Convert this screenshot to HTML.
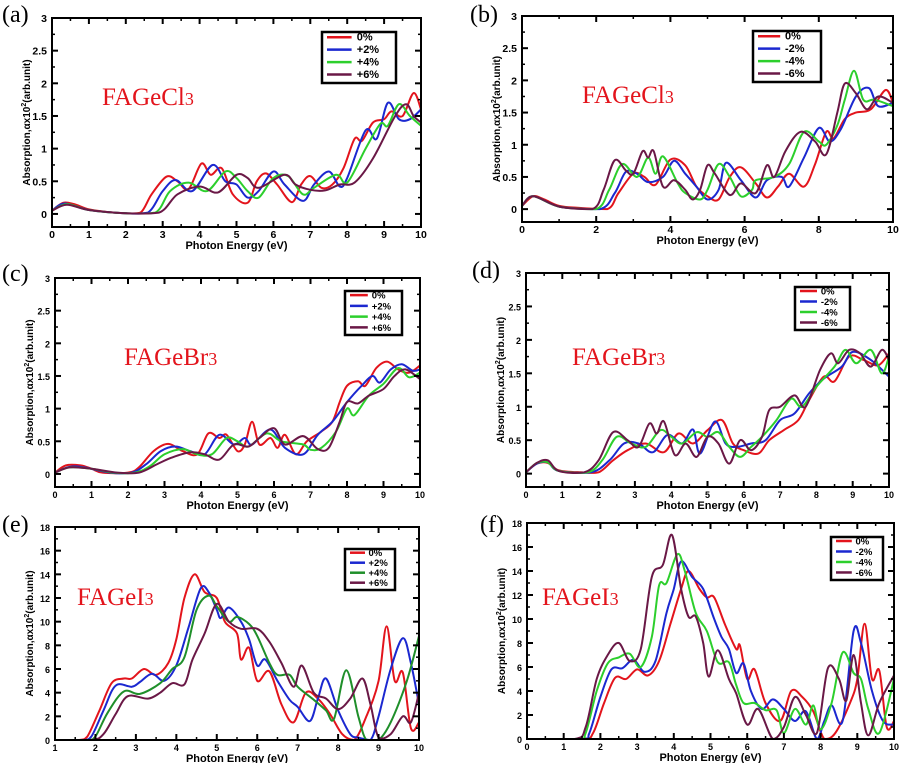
<!DOCTYPE html>
<html><head><meta charset="utf-8"><style>
body{margin:0;background:#fff;}
svg text{font-family:"Liberation Sans",sans-serif;}
</style></head><body>
<svg id="s" width="903" height="763" viewBox="0 0 903 763" xmlns="http://www.w3.org/2000/svg"></svg>
<script>
const S=document.getElementById('s');let out='';
const R='#e3141c',B='#1b28d0',G='#2ccf2c',G2='#1f8f2a',P='#6a1846';
function path(pts,fx,fy,ymax){let d='';const p=pts.map(a=>[fx(a[0]),fy(a[1])]);
const cl=v=>Math.min(v,ymax);
d='M'+p[0][0].toFixed(1)+','+p[0][1].toFixed(1);
for(let i=0;i<p.length-1;i++){const p0=p[i-1]||p[i],p1=p[i],p2=p[i+1],p3=p[i+2]||p2;
const c1=[p1[0]+(p2[0]-p0[0])/6,cl(p1[1]+(p2[1]-p0[1])/6)],c2=[p2[0]-(p3[0]-p1[0])/6,cl(p2[1]-(p3[1]-p1[1])/6)];
d+='C'+c1.map(v=>v.toFixed(1))+' '+c2.map(v=>v.toFixed(1))+' '+p2.map(v=>v.toFixed(1));}
return d;}
function panel(o){const {L,R:Rt,T,Bt,x0,x1,y0,y1,xt,yt,lab,px,py,name,nx,ny,leg,lg,series,cols,fs}=o;
const fx=x=>L+(x-x0)/(x1-x0)*(Rt-L), fy=y=>Bt-(y-y0)/(y1-y0)*(Bt-T);
out+=`<clipPath id="c${lab}"><rect x="${L}" y="${T}" width="${Rt-L}" height="${Bt-T}"/></clipPath>`;
series.forEach((s,i)=>{out+=`<path d="${path(s,fx,fy,fy(0))}" fill="none" stroke="${cols[i]}" stroke-width="2" clip-path="url(#c${lab})"/>`;});
out+=`<rect x="${L}" y="${T}" width="${Rt-L}" height="${Bt-T}" fill="none" stroke="#000" stroke-width="2"/>`;
for(let x=x0;x<=x1+1e-9;x+=xt){const X=fx(x);out+=`<line x1="${X}" y1="${Bt}" x2="${X}" y2="${Bt-6}" stroke="#000" stroke-width="2"/><line x1="${X}" y1="${T}" x2="${X}" y2="${T+6}" stroke="#000" stroke-width="2"/>`;
out+=`<text x="${X}" y="${Bt+11}" font-size="${fs}" font-weight="bold" text-anchor="middle">${+x.toFixed(2)}</text>`;
if(x+xt/2<x1){const Xm=fx(x+xt/2);out+=`<line x1="${Xm}" y1="${Bt}" x2="${Xm}" y2="${Bt-3}" stroke="#000" stroke-width="1.5"/><line x1="${Xm}" y1="${T}" x2="${Xm}" y2="${T+3}" stroke="#000" stroke-width="1.5"/>`;}}
for(let y=0;y<=y1+1e-9;y+=yt){const Y=fy(y);out+=`<line x1="${L}" y1="${Y}" x2="${L+6}" y2="${Y}" stroke="#000" stroke-width="2"/><line x1="${Rt}" y1="${Y}" x2="${Rt-6}" y2="${Y}" stroke="#000" stroke-width="2"/>`;
out+=`<text x="${L-5}" y="${Y+4}" font-size="${fs}" font-weight="bold" text-anchor="end">${+y.toFixed(2)}</text>`;
if(y+yt/2<y1){const Ym=fy(y+yt/2);out+=`<line x1="${L}" y1="${Ym}" x2="${L+3}" y2="${Ym}" stroke="#000" stroke-width="1.5"/><line x1="${Rt}" y1="${Ym}" x2="${Rt-3}" y2="${Ym}" stroke="#000" stroke-width="1.5"/>`;}}
out+=`<text x="${(L+Rt)/2}" y="${Bt+22}" font-size="11" font-weight="bold" text-anchor="middle">Photon Energy (eV)</text>`;
const yc=(T+Bt)/2;out+=`<text transform="translate(${L-22},${yc}) rotate(-90)" font-size="10" font-weight="bold" text-anchor="middle">Absorption,αx10<tspan dy="-4" font-size="7">2</tspan><tspan dy="4">(arb.unit)</tspan></text>`;
out+=`<text x="${px}" y="${py}" font-size="24" style="font-family:'Liberation Serif',serif">(${lab})</text>`;
out+=`<text x="${nx}" y="${ny}" fill="#e3141c" font-size="25" style="font-family:'Liberation Serif',serif">${name}</text>`;
const [lx,ly,lw,lh]=leg;out+=`<rect x="${lx}" y="${ly}" width="${lw}" height="${lh}" fill="#fff" stroke="#000" stroke-width="2.5"/>`;
lg.forEach((t,i)=>{const yy=ly+lh*(i+0.62)/4.1+1;out+=`<line x1="${lx+5}" y1="${yy-3.5}" x2="${lx+lw*0.4}" y2="${yy-3.5}" stroke="${cols[i]}" stroke-width="2.5"/><text x="${lx+lw*0.47}" y="${yy}" font-size="${lh>48?11:9.5}" font-weight="bold">${t}</text>`;});
}
const cols=[R,B,G,P];
panel({L:52,R:421,T:18,Bt:227,x0:0,x1:10,y0:-0.2,y1:3,xt:1,yt:0.5,lab:'a',px:2,py:22,name:'FAGeCl<tspan font-size="18">3</tspan>',nx:102,ny:105,leg:[322,32,74,51],lg:['0%','+2%','+4%','+6%'],cols,fs:10.5,series:[
[[0,0.05],[0.3,0.17],[0.6,0.15],[1,0.07],[1.5,0.03],[2,0.01],[2.4,0.02],[2.7,0.3],[3.1,0.57],[3.4,0.5],[3.7,0.38],[4.05,0.77],[4.3,0.6],[4.6,0.7],[4.9,0.3],[5.3,0.17],[5.55,0.5],[5.8,0.62],[6.1,0.45],[6.5,0.18],[6.75,0.45],[7.0,0.58],[7.3,0.4],[7.6,0.45],[7.9,0.7],[8.2,1.15],[8.4,1.12],[8.7,1.4],[9.0,1.45],[9.2,1.57],[9.5,1.5],[9.8,1.85],[10,1.6]],
[[0,0.05],[0.35,0.16],[1,0.06],[2,0.01],[2.6,0.02],[3,0.35],[3.35,0.52],[3.8,0.35],[4.35,0.75],[4.7,0.5],[5.0,0.45],[5.3,0.25],[5.6,0.35],[6.0,0.65],[6.3,0.45],[6.8,0.2],[7.1,0.45],[7.5,0.65],[7.8,0.42],[8.0,0.55],[8.5,1.28],[8.8,1.15],[9.1,1.7],[9.4,1.45],[9.7,1.45],[10,1.6]],
[[0,0.05],[0.4,0.15],[1,0.06],[2,0.01],[2.8,0.02],[3.2,0.35],[3.7,0.48],[4.2,0.35],[4.7,0.65],[5.0,0.55],[5.3,0.35],[5.6,0.25],[6.0,0.55],[6.4,0.58],[6.8,0.3],[7.1,0.4],[7.7,0.6],[8.0,0.48],[8.5,1.0],[8.9,1.38],[9.1,1.35],[9.4,1.68],[9.7,1.5],[10,1.35]],
[[0,0.05],[0.4,0.14],[1,0.06],[2,0.01],[2.9,0.02],[3.4,0.3],[4.0,0.42],[4.5,0.33],[5.0,0.6],[5.3,0.55],[5.6,0.4],[6.3,0.6],[6.6,0.45],[7.0,0.37],[7.4,0.36],[7.8,0.45],[8.2,0.48],[8.7,0.85],[9.3,1.5],[9.6,1.68],[9.8,1.5],[10,1.4]]]});
panel({L:522,R:893,T:16,Bt:222,x0:0,x1:10,y0:-0.2,y1:3,xt:2,yt:0.5,lab:'b',px:470,py:22,name:'FAGeCl<tspan font-size="18">3</tspan>',nx:582,ny:103,leg:[753,31,68,51],lg:['0%','-2%','-4%','-6%'],cols,fs:10.5,series:[
[[0,0.05],[0.3,0.2],[0.6,0.15],[1,0.05],[1.5,0.02],[2.3,0.0],[2.6,0.25],[3.0,0.55],[3.3,0.5],[3.6,0.38],[4.0,0.77],[4.4,0.68],[4.7,0.35],[5.0,0.2],[5.3,0.15],[5.6,0.5],[5.9,0.65],[6.3,0.4],[6.6,0.18],[6.9,0.35],[7.2,0.55],[7.6,0.35],[7.9,0.7],[8.2,1.2],[8.4,1.1],[8.7,1.4],[9.0,1.5],[9.4,1.55],[9.8,1.85],[10,1.65]],
[[0,0.05],[0.3,0.2],[1,0.04],[2.1,0.0],[2.5,0.25],[2.8,0.58],[3.1,0.55],[3.4,0.42],[3.8,0.5],[4.1,0.75],[4.4,0.55],[4.7,0.35],[5.0,0.15],[5.3,0.3],[5.5,0.72],[5.9,0.45],[6.3,0.18],[6.6,0.45],[7.0,0.5],[7.2,0.35],[7.6,0.8],[8.0,1.26],[8.3,1.05],[8.6,1.25],[9.0,1.75],[9.35,1.88],[9.6,1.6],[10,1.65]],
[[0,0.05],[0.3,0.2],[1,0.04],[2.0,0.0],[2.35,0.3],[2.7,0.7],[3.1,0.5],[3.4,0.8],[3.6,0.55],[3.8,0.82],[4.2,0.4],[4.4,0.25],[4.8,0.15],[5.0,0.3],[5.3,0.7],[5.6,0.5],[5.9,0.2],[6.2,0.3],[6.3,0.45],[6.8,0.5],[7.2,0.7],[7.6,1.2],[8.0,1.05],[8.2,1.0],[8.5,1.3],[8.7,1.7],[8.95,2.15],[9.2,1.7],[9.5,1.7],[10,1.6]],
[[0,0.05],[0.3,0.2],[1,0.04],[1.9,0.0],[2.2,0.3],[2.5,0.76],[2.8,0.6],[3.0,0.55],[3.25,0.9],[3.4,0.8],[3.55,0.9],[3.8,0.35],[4.1,0.45],[4.4,0.3],[4.6,0.15],[4.8,0.3],[5.0,0.68],[5.2,0.55],[5.6,0.22],[5.9,0.4],[6.3,0.25],[6.6,0.68],[6.8,0.5],[7.1,0.9],[7.5,1.2],[7.9,1.05],[8.2,0.85],[8.5,1.5],[8.7,1.95],[9.0,1.8],[9.3,1.55],[9.6,1.75],[10,1.65]]]});
panel({L:55,R:420,T:278,Bt:487,x0:0,x1:10,y0:-0.2,y1:3,xt:1,yt:0.5,lab:'c',px:2,py:281,name:'FAGeBr<tspan font-size="18">3</tspan>',nx:124,ny:365,leg:[345,291,57,44],lg:['0%','+2%','+4%','+6%'],cols,fs:9,series:[
[[0,0.02],[0.3,0.13],[0.7,0.13],[1,0.08],[1.3,0.02],[2,0.02],[2.3,0.1],[2.7,0.35],[3.1,0.46],[3.5,0.35],[3.9,0.3],[4.2,0.62],[4.5,0.55],[4.7,0.6],[5.0,0.35],[5.2,0.45],[5.4,0.8],[5.6,0.45],[5.9,0.55],[6.1,0.4],[6.3,0.6],[6.6,0.3],[6.9,0.5],[7.3,0.65],[7.6,0.8],[7.8,1.1],[8.0,1.35],[8.3,1.42],[8.5,1.35],[8.8,1.62],[9.1,1.72],[9.4,1.6],[9.7,1.55],[10,1.66]],
[[0,0.02],[0.4,0.11],[0.8,0.1],[1.5,0.02],[2.1,0.02],[2.5,0.15],[2.9,0.35],[3.3,0.42],[3.7,0.35],[4.1,0.3],[4.5,0.6],[4.9,0.45],[5.2,0.55],[5.4,0.45],[5.9,0.68],[6.3,0.4],[6.8,0.3],[7.2,0.6],[7.6,0.8],[8.0,1.1],[8.4,1.35],[8.7,1.5],[8.9,1.4],[9.2,1.6],[9.5,1.68],[9.8,1.58],[10,1.6]],
[[0,0.02],[0.4,0.1],[1,0.08],[1.6,0.02],[2.2,0.02],[2.6,0.12],[3.0,0.3],[3.5,0.38],[3.9,0.3],[4.3,0.3],[4.7,0.55],[5.0,0.5],[5.3,0.42],[5.8,0.62],[6.2,0.5],[6.8,0.45],[7.0,0.37],[7.3,0.4],[7.7,0.65],[8.0,1.0],[8.2,0.9],[8.6,1.2],[9.0,1.38],[9.4,1.62],[9.7,1.48],[10,1.55]],
[[0,0.02],[0.4,0.1],[1,0.08],[1.7,0.02],[2.3,0.02],[2.8,0.15],[3.2,0.25],[3.7,0.33],[4.1,0.3],[4.5,0.22],[4.9,0.45],[5.3,0.42],[5.6,0.55],[6.0,0.7],[6.3,0.45],[6.8,0.58],[7.2,0.38],[7.5,0.4],[7.8,0.8],[8.0,1.1],[8.3,1.08],[8.6,1.2],[9.0,1.3],[9.3,1.5],[9.6,1.6],[10,1.45]]]});
panel({L:526,R:889,T:273,Bt:487,x0:0,x1:10,y0:-0.2,y1:3,xt:1,yt:0.5,lab:'d',px:472,py:278,name:'FAGeBr<tspan font-size="18">3</tspan>',nx:572,ny:365,leg:[795,287,55,43],lg:['0%','-2%','-4%','-6%'],cols,fs:9,series:[
[[0,0.02],[0.3,0.15],[0.6,0.16],[0.9,0.05],[1.5,0.02],[2.0,0.02],[2.4,0.2],[2.8,0.35],[3.3,0.45],[3.8,0.32],[4.2,0.6],[4.6,0.45],[5.0,0.65],[5.4,0.8],[5.7,0.45],[6.0,0.35],[6.4,0.3],[6.7,0.5],[7.1,0.65],[7.5,0.8],[7.8,1.1],[8.2,1.45],[8.5,1.38],[8.9,1.75],[9.3,1.7],[9.7,1.62],[10,1.8]],
[[0,0.02],[0.3,0.15],[0.6,0.17],[0.9,0.04],[1.8,0.02],[2.3,0.2],[2.7,0.45],[3.1,0.45],[3.5,0.32],[3.9,0.58],[4.3,0.45],[4.6,0.66],[4.8,0.3],[5.2,0.78],[5.5,0.45],[5.8,0.4],[6.2,0.45],[6.6,0.5],[7.0,0.8],[7.4,0.9],[7.8,1.2],[8.2,1.42],[8.7,1.6],[9.0,1.82],[9.5,1.7],[10,1.45]],
[[0,0.02],[0.3,0.16],[0.6,0.17],[0.9,0.04],[1.7,0.02],[2.1,0.2],[2.5,0.55],[2.9,0.45],[3.3,0.4],[3.7,0.65],[4.0,0.55],[4.3,0.45],[4.7,0.62],[5.0,0.55],[5.3,0.62],[5.6,0.4],[5.9,0.25],[6.2,0.4],[6.5,0.55],[6.9,0.8],[7.3,1.12],[7.6,1.0],[8.0,1.3],[8.5,1.6],[8.8,1.85],[9.1,1.65],[9.5,1.85],[9.8,1.5],[10,1.75]],
[[0,0.02],[0.3,0.16],[0.6,0.2],[0.9,0.04],[1.6,0.02],[2.0,0.2],[2.4,0.62],[2.8,0.5],[3.1,0.4],[3.4,0.75],[3.6,0.6],[3.8,0.78],[4.1,0.28],[4.4,0.45],[4.7,0.25],[5.0,0.55],[5.3,0.45],[5.6,0.15],[5.9,0.5],[6.2,0.35],[6.5,0.55],[6.7,0.95],[7.0,1.0],[7.4,1.17],[7.7,1.0],[8.1,1.55],[8.4,1.8],[8.6,1.65],[8.9,1.85],[9.2,1.8],[9.5,1.6],[9.8,1.85],[10,1.7]]]});
panel({L:55,R:419,T:527,Bt:740,x0:1,x1:10,y0:0,y1:18,xt:1,yt:2,lab:'e',px:2,py:532,name:'FAGeI<tspan font-size="18">3</tspan>',nx:77,ny:605,leg:[345,549,50,41],lg:['0%','+2%','+4%','+6%'],cols:[R,B,G2,P],fs:9,series:[
[[1,0],[1.6,0],[1.8,0.3],[2.1,2.5],[2.4,4.8],[2.7,5.2],[2.9,5.2],[3.2,6],[3.5,5.5],[3.8,6.5],[4.0,8.5],[4.2,12],[4.45,14],[4.7,12.5],[5.0,12],[5.2,10],[5.5,9],[5.6,6.8],[5.8,7.8],[6.0,5],[6.3,5.8],[6.6,3],[6.9,1.5],[7.2,4],[7.5,3.5],[7.8,2.2],[8.1,0.5],[8.4,0],[8.7,2],[9.0,5],[9.2,9.6],[9.4,5],[9.6,5.7],[9.8,1],[10,1.5]],
[[1,0],[1.7,0],[1.9,0.3],[2.2,2.5],[2.5,4.6],[2.9,4.5],[3.1,4.9],[3.4,5.6],[3.7,5],[4.0,6.3],[4.3,9.5],[4.6,12.8],[4.8,12.5],[5.0,11],[5.1,10.3],[5.3,11.2],[5.6,10],[5.8,8.5],[6.0,6.3],[6.2,6.8],[6.5,5],[6.8,3.4],[7.0,2.8],[7.3,1.6],[7.5,3.5],[7.7,5.2],[8.0,2.5],[8.3,0.5],[8.5,0.2],[8.8,0],[9.0,2],[9.3,6],[9.6,8.6],[9.8,6.5],[10,3]],
[[1,0],[1.8,0],[2.0,0.3],[2.3,2.3],[2.7,4.1],[3.1,3.9],[3.6,4.8],[3.9,6],[4.2,7],[4.5,11],[4.8,12.2],[5.0,11.3],[5.3,10],[5.5,10.4],[5.8,9.8],[6.0,8.8],[6.3,6.5],[6.5,5.5],[6.8,5.5],[7.0,4.5],[7.4,3.4],[7.7,2.5],[7.9,1.8],[8.2,5.9],[8.5,2],[8.7,0],[9.0,0],[9.3,1.5],[9.7,5],[10,8.8]],
[[1,0],[1.9,0],[2.2,0.5],[2.5,2.2],[2.8,3.7],[3.3,3.5],[3.6,4],[3.9,4.8],[4.2,4.7],[4.4,6.8],[4.7,9],[5.0,11.5],[5.3,10],[5.6,9.4],[6.0,9.4],[6.3,8.3],[6.6,6.5],[6.9,4.5],[7.1,6.3],[7.4,4],[7.7,3.5],[8.0,2.6],[8.3,3.5],[8.6,5.2],[8.8,3],[9.0,0.2],[9.3,0.5],[9.6,2],[9.8,1.5],[10,4]]]});
panel({L:527,R:894,T:523,Bt:739,x0:0,x1:10,y0:0,y1:18,xt:1,yt:2,lab:'f',px:480,py:532,name:'FAGeI<tspan font-size="18">3</tspan>',nx:542,ny:605,leg:[831,537,52,43],lg:['0%','-2%','-4%','-6%'],cols,fs:9,series:[
[[0,0],[1.5,0],[1.8,0.5],[2.1,3],[2.4,5.1],[2.7,5],[3.0,5.8],[3.3,5.3],[3.6,6.5],[3.9,9.5],[4.2,12.5],[4.4,14],[4.7,12.5],[4.9,11.8],[5.1,11.8],[5.4,9.5],[5.7,7.5],[5.8,7.8],[6.0,5],[6.2,5.8],[6.5,3],[6.9,1.5],[7.2,4],[7.5,3.5],[7.8,2.3],[8.1,0],[8.4,0.5],[8.8,3],[9.0,5],[9.2,9.6],[9.4,5],[9.6,5.7],[9.8,1],[10,1.5]],
[[0,0],[1.5,0],[1.7,0.5],[2.0,3.5],[2.3,5.8],[2.6,5.9],[2.9,6.6],[3.2,5.6],[3.5,6.5],[3.8,10.5],[4.0,12.5],[4.2,14.8],[4.5,13.5],[4.8,12.5],[5.1,10],[5.3,8.5],[5.5,7.5],[5.7,5.5],[5.9,6.3],[6.1,4],[6.4,2.5],[6.7,3.3],[7.0,2.5],[7.3,1.5],[7.6,2.3],[7.9,0],[8.1,1.5],[8.3,2.8],[8.6,1.5],[8.9,9],[9.1,8],[9.4,4],[9.7,1.5],[10,1.2]],
[[0,0],[1.4,0],[1.6,0.5],[1.9,4],[2.2,6.3],[2.5,6.8],[2.8,7.1],[3.1,6],[3.4,8.5],[3.6,12.8],[3.8,13],[4.1,15.4],[4.3,14],[4.6,10.5],[4.9,9],[5.2,6.4],[5.5,6.4],[5.7,4.5],[5.9,3],[6.2,3],[6.5,2.4],[6.8,2.4],[7.0,0.5],[7.3,2.5],[7.6,1.2],[7.8,2.8],[8.0,0.8],[8.3,3],[8.6,7.2],[8.9,5.5],[9.1,5],[9.3,2.5],[9.6,0.5],[10,5]],
[[0,0],[1.3,0],[1.6,1],[1.9,5],[2.2,7],[2.5,8],[2.8,6.5],[3.1,7.5],[3.4,13.5],[3.7,14.5],[3.95,17],[4.2,12.5],[4.4,10.2],[4.6,10.2],[4.8,8],[4.95,5.2],[5.2,7.4],[5.5,5],[5.7,3.8],[6.0,1.2],[6.3,2.5],[6.7,0],[7.0,1],[7.3,3.5],[7.6,2],[7.9,0.5],[8.2,5.9],[8.5,5],[8.7,3.2],[8.9,7],[9.1,3],[9.3,0.3],[9.6,3],[10,5.3]]]});
S.innerHTML=out;
</script>
</body></html>
